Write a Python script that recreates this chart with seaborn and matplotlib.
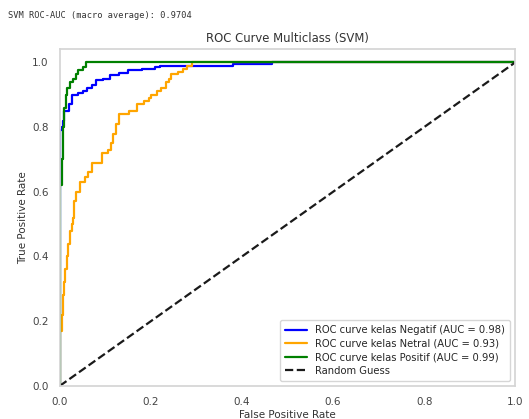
import matplotlib
matplotlib.use("Agg")
import matplotlib.pyplot as plt
import seaborn as sns

# ROC points (fpr where tpr jumps, tpr after the jump)
neg_fpr = [0, 0, 0.004, 0.007, 0.01, 0.02, 0.026, 0.04, 0.05, 0.06, 0.07, 0.08,
           0.095, 0.11, 0.13, 0.15, 0.18, 0.21, 0.22, 0.38, 0.466, 1.0]
neg_tpr = [0, 0.79, 0.80, 0.82, 0.85, 0.87, 0.90, 0.905, 0.91, 0.92, 0.93, 0.945,
           0.95, 0.96, 0.967, 0.975, 0.98, 0.985, 0.99, 0.994, 1.0, 1.0]

net_fpr = [0, 0, 0.004, 0.007, 0.009, 0.011, 0.015, 0.018, 0.022, 0.026, 0.029,
           0.031, 0.035, 0.044, 0.055, 0.062, 0.07, 0.092, 0.105, 0.112, 0.117,
           0.124, 0.13, 0.152, 0.17, 0.185, 0.195, 0.2, 0.213, 0.222, 0.233,
           0.24, 0.245, 0.26, 0.27, 0.28, 0.29, 1.0]
net_tpr = [0, 0.17, 0.22, 0.28, 0.32, 0.36, 0.40, 0.44, 0.48, 0.50, 0.52,
           0.57, 0.60, 0.63, 0.645, 0.66, 0.69, 0.72, 0.73, 0.75, 0.78,
           0.81, 0.84, 0.85, 0.87, 0.88, 0.89, 0.90, 0.91, 0.92, 0.94,
           0.95, 0.965, 0.97, 0.98, 0.99, 1.0, 1.0]

pos_fpr = [0, 0, 0.004, 0.007, 0.009, 0.013, 0.016, 0.022, 0.03, 0.035, 0.04,
           0.05, 0.057, 1.0]
pos_tpr = [0, 0.62, 0.70, 0.80, 0.86, 0.90, 0.92, 0.94, 0.95, 0.965, 0.975,
           0.985, 1.0, 1.0]

classes = ["Negatif", "Netral", "Positif"]
aucs = [0.98, 0.93, 0.99]
macro_auc = 0.9704

sns.set_theme(style="whitegrid")
plt.rcParams["font.family"] = ["DejaVu Sans"]

fig = plt.figure(figsize=(5.29, 4.19), dpi=100)
ax = fig.add_axes([0.113, 0.079, 0.861, 0.803])

curves = [(neg_fpr, neg_tpr, "blue"), (net_fpr, net_tpr, "orange"), (pos_fpr, pos_tpr, "green")]
for (fpr, tpr, col), name, auc in zip(curves, classes, aucs):
    sns.lineplot(x=fpr, y=tpr, ax=ax, estimator=None, sort=False,
                 drawstyle="steps-post", color=col, lw=1.6,
                 label=f"ROC curve kelas {name} (AUC = {auc:.2f})")

ax.plot([0, 1], [0, 1], "k--", lw=1.6, label="Random Guess")

ax.set_xlim(0, 1)
ax.set_ylim(0, 1.04)
ax.grid(False)
for s in ax.spines.values():
    s.set_color("#d5d5d5")
ax.tick_params(labelsize=7.5, colors="#444444", pad=2)
ax.set_xlabel("False Positive Rate", fontsize=7.5, color="#333333", labelpad=2)
ax.set_ylabel("True Positive Rate", fontsize=7.5, color="#333333", labelpad=3)
ax.set_title("ROC Curve Multiclass (SVM)", fontsize=8.4, color="#333333", pad=5)
ax.legend(loc="lower right", fontsize=7.2, frameon=True, handlelength=2.2,
          borderpad=0.5, labelspacing=0.35)

fig.text(0.015, 0.957, f"SVM ROC-AUC (macro average): {macro_auc}",
         family="DejaVu Sans Mono", fontsize=6.2, color="#333333")

fig.savefig("out.png", dpi=100)
